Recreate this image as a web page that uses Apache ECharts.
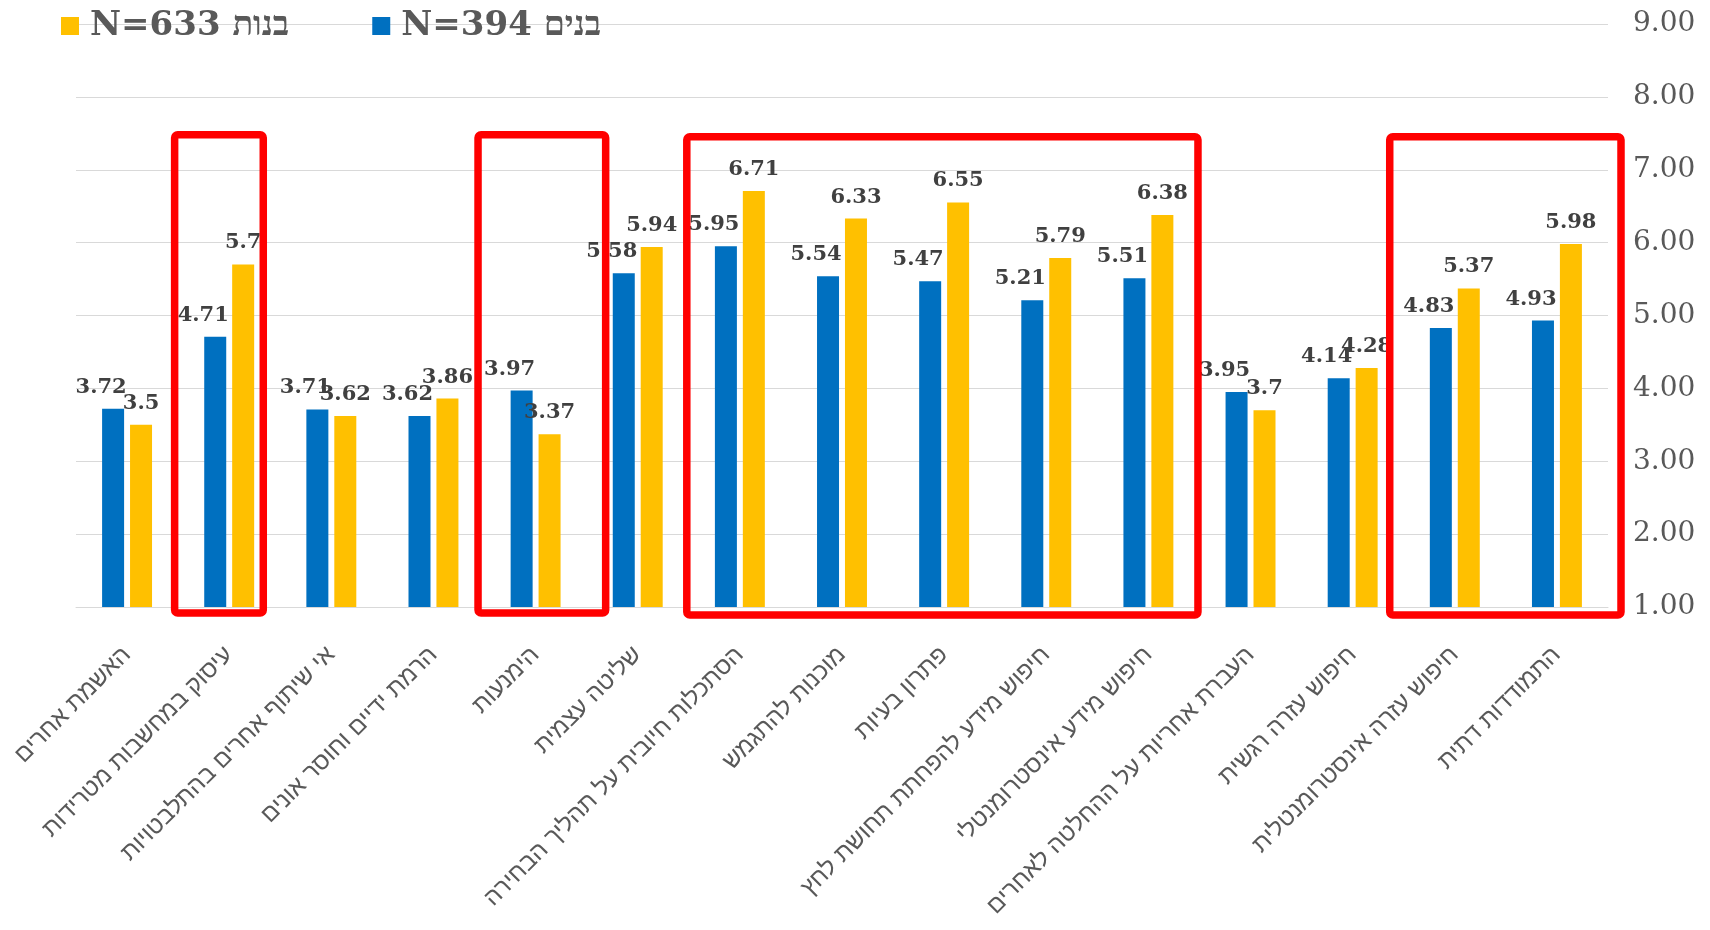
<!DOCTYPE html>
<html>
<head>
<meta charset="utf-8">
<script src="https://cdn.jsdelivr.net/npm/echarts@6/dist/echarts.min.js"></script>
<style>
html,body{margin:0;padding:0;background:#fff;}
#chart{width:1710px;height:930px;}
</style>
</head>
<body>
<div id="chart"></div>
<script>
// ---- data ----
const categories = [
  'האשמת אחרים',
  'עיסוק במחשבות מטרידות',
  'אי שיתוף אחרים בהתלבטויות',
  'הרמת ידיים וחוסר אונים',
  'הימנעות',
  'שליטה עצמית',
  'הסתכלות חיובית על תהליך הבחירה',
  'מוכנות להתגמש',
  'פתרון בעיות',
  'חיפוש מידע להפחתת תחושת לחץ',
  'חיפוש מידע אינסטרומנטלי',
  'העברת אחריות על ההחלטה לאחרים',
  'חיפוש עזרה רגשית',
  'חיפוש עזרה אינסטרומנטלית',
  'התמודדות דתית'
];
const boysName = 'N=394 בנים';
const girlsName = 'N=633 בנות';
const boysValues  = [3.72, 4.71, 3.71, 3.62, 3.97, 5.58, 5.95, 5.54, 5.47, 5.21, 5.51, 3.95, 4.14, 4.83, 4.93];
const girlsValues = [3.5, 5.7, 3.62, 3.86, 3.37, 5.94, 6.71, 6.33, 6.55, 5.79, 6.38, 3.7, 4.28, 5.37, 5.98];
const yTicks = [1, 2, 3, 4, 5, 6, 7, 8, 9];
// highlighted category groups (first and last category of each red frame)
const highlightGroups = [
  [categories[1], categories[1]],
  [categories[4], categories[4]],
  [categories[6], categories[10]],
  [categories[13], categories[14]]
];

// ---- styles (hand-drawn frame adjustments, px) ----
const frameStyle = [
  {padL: -3.5, padR: -17, topAdj: 1.5, botAdj: 6},
  {padL: -6.5, padR: 19, topAdj: 1.5, botAdj: 6},
  {padL: -2, padR: -1.5, topAdj: 3.5, botAdj: 8},
  {padL: -14, padR: 13, topAdj: 3.5, botAdj: 8}
];
const frameTopValue = 7.5;

const BLUE = '#0070C0', ORANGE = '#FFC000';
const serif = "'DejaVu Serif', 'Liberation Serif', serif";

const chart = echarts.init(document.getElementById('chart'), null, {renderer: 'canvas'});
const labelCommon = {
  show: true,
  position: 'top',
  distance: 11,
  fontFamily: serif,
  fontWeight: 'bold',
  fontSize: 21,
  color: '#404040'
};
chart.setOption({
  animation: false,
  backgroundColor: '#ffffff',
  grid: {left: 76, right: 102, top: 24, bottom: 323, containLabel: false, outerBoundsMode: 'none'},
  legend: {
    data: [girlsName, boysName],
    left: 56,
    top: 4,
    itemWidth: 18,
    itemHeight: 18,
    itemGap: 83,
    icon: 'rect',
    textStyle: {fontFamily: serif, fontWeight: 'bold', fontSize: 34, color: '#595959', padding: [0, 0, 0, 6]}
  },
  xAxis: {
    type: 'category',
    data: categories,
    axisLine: {show: true, lineStyle: {color: '#d9d9d9', width: 1}},
    axisTick: {show: false},
    axisLabel: {
      interval: 0,
      rotate: 45,
      margin: 44,
      fontFamily: "'Liberation Sans', 'DejaVu Sans', 'Noto Sans', sans-serif",
      fontSize: 24,
      color: '#595959'
    }
  },
  yAxis: {
    type: 'value',
    position: 'right',
    min: yTicks[0],
    max: yTicks[yTicks.length - 1],
    interval: 1,
    axisLine: {show: false},
    axisTick: {show: false},
    splitLine: {lineStyle: {color: '#d9d9d9', width: 1}},
    axisLabel: {
      margin: 25,
      fontFamily: serif,
      fontSize: 28,
      color: '#595959',
      formatter: v => v.toFixed(2)
    }
  },
  series: [
    {
      name: boysName,
      type: 'bar',
      data: boysValues,
      barWidth: 22,
      barGap: '27%',
      itemStyle: {color: BLUE},
      label: Object.assign({}, labelCommon, {offset: [-12, 0]})
    },
    {
      name: girlsName,
      type: 'bar',
      data: girlsValues,
      barWidth: 22,
      barGap: '27%',
      itemStyle: {color: ORANGE},
      label: Object.assign({}, labelCommon)
    }
  ]
});

// red frames, positioned through the axes' scales
const c0 = chart.convertToPixel({xAxisIndex: 0}, categories[0]);
const c1 = chart.convertToPixel({xAxisIndex: 0}, categories[1]);
const band = c1 - c0;
const yTop = chart.convertToPixel({yAxisIndex: 0}, frameTopValue);
const yBase = chart.convertToPixel({yAxisIndex: 0}, yTicks[0]);
const graphics = highlightGroups.map((g, i) => {
  const s = frameStyle[i];
  const xl = chart.convertToPixel({xAxisIndex: 0}, g[0]) - band / 2 + s.padL;
  const xr = chart.convertToPixel({xAxisIndex: 0}, g[1]) + band / 2 + s.padR;
  const yt = yTop + s.topAdj;
  const yb = yBase + s.botAdj;
  return {
    type: 'rect',
    z: 100,
    shape: {x: xl, y: yt, width: xr - xl, height: yb - yt, r: 3},
    style: {fill: 'none', stroke: '#FF0000', lineWidth: 7.5}
  };
});
chart.setOption({graphic: graphics});
</script>
</body>
</html>
